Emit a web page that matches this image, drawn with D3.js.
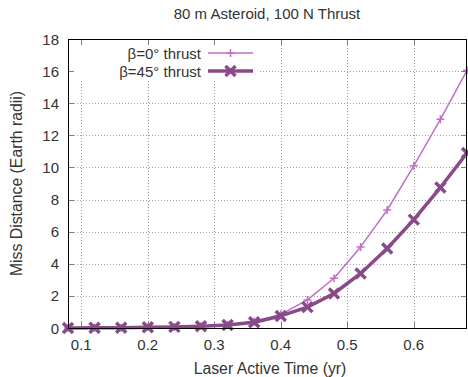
<!DOCTYPE html>
<html>
<head>
<meta charset="utf-8">
<script src="https://cdn.jsdelivr.net/npm/d3@7"></script>
<style>
  html, body { margin: 0; padding: 0; background: #fff; }
  svg { display: block; font-family: 'Liberation Sans', Arial, sans-serif; }
</style>
</head>
<body>
<svg id="chart" width="468" height="377"></svg>
<script>
// laser active time (yr)
const times = [0.08, 0.12, 0.16, 0.20, 0.24, 0.28, 0.32, 0.36, 0.40, 0.44, 0.48, 0.52, 0.56, 0.60, 0.64, 0.68];
const beta0 = [0.0, 0.01, 0.02, 0.04, 0.07, 0.12, 0.2, 0.4, 0.85, 1.75, 3.1, 5.05, 7.35, 10.1, 13.0, 16.05];
const beta45 = [0.0, 0.01, 0.02, 0.04, 0.07, 0.11, 0.18, 0.36, 0.75, 1.3, 2.15, 3.4, 4.95, 6.75, 8.75, 10.9];
const xTicks = [0.1, 0.2, 0.3, 0.4, 0.5, 0.6];
const yTicks = [0, 2, 4, 6, 8, 10, 12, 14, 16, 18];

const series = [
  { label: 'β=0° thrust', values: beta0, color: '#c070c4', width: 1.5, marker: 'plus' },
  { label: 'β=45° thrust', values: beta45, color: '#8a4a8a', width: 3.5, marker: 'cross' }
];

const width = 468;
const height = 377;
const margin = { left: 68, right: 1, top: 39, bottom: 49 };
const fs = 15;
const svg = d3.select('#chart');

const x = d3.scaleLinear().domain([0.08, 0.68]).range([margin.left, width - margin.right]);
const y = d3.scaleLinear().domain([0, 18]).range([height - margin.bottom, margin.top]);

// grid
const grid = svg.append('g').attr('stroke', '#a0a0a0').attr('stroke-width', 1).attr('stroke-dasharray', '1,2');
grid.selectAll('line.gx').data(xTicks).join('line')
  .attr('x1', (d) => Math.round(x(d)) + 0.5).attr('x2', (d) => Math.round(x(d)) + 0.5)
  .attr('y1', y(0)).attr('y2', y(18));
grid.selectAll('line.gy').data(yTicks.slice(1, -1)).join('line')
  .attr('x1', x(0.08)).attr('x2', x(0.68))
  .attr('y1', (d) => Math.round(y(d)) + 0.5).attr('y2', (d) => Math.round(y(d)) + 0.5);

// opaque legend box
svg.append('rect').attr('x', margin.left + 1).attr('y', margin.top + 1).attr('width', 190).attr('height', 41).attr('fill', '#fff');

// ticks (mirrored, inward)
const ticks = svg.append('g').attr('stroke', '#808080').attr('stroke-width', 1);
xTicks.forEach((d) => {
  const px = Math.round(x(d)) + 0.5;
  ticks.append('line').attr('x1', px).attr('x2', px).attr('y1', y(0)).attr('y2', y(0) - 6);
  ticks.append('line').attr('x1', px).attr('x2', px).attr('y1', y(18)).attr('y2', y(18) + 6);
});
yTicks.forEach((d) => {
  const py = Math.round(y(d)) + 0.5;
  ticks.append('line').attr('x1', x(0.08)).attr('x2', x(0.08) + 6).attr('y1', py).attr('y2', py);
  ticks.append('line').attr('x1', x(0.68)).attr('x2', x(0.68) - 6).attr('y1', py).attr('y2', py);
});

// tick labels
svg.append('g').selectAll('text').data(xTicks).join('text')
  .attr('x', (d) => x(d)).attr('y', y(0) + 22).attr('text-anchor', 'middle')
  .attr('font-size', fs).attr('fill', '#333').text((d) => d.toFixed(1));
svg.append('g').selectAll('text').data(yTicks).join('text')
  .attr('x', x(0.08) - 9).attr('y', (d) => y(d) + 5.5).attr('text-anchor', 'end')
  .attr('font-size', fs).attr('fill', '#333').text((d) => d);

// axis titles
svg.append('text').attr('x', 267).attr('y', 18.5).attr('text-anchor', 'middle')
  .attr('font-size', fs).attr('fill', '#333').text('80 m Asteroid, 100 N Thrust');
svg.append('text').attr('x', 270).attr('y', 374).attr('text-anchor', 'middle')
  .attr('font-size', 15.8).attr('fill', '#333').text('Laser Active Time (yr)');
svg.append('text').attr('transform', `translate(22, ${y(9)}) rotate(-90)`).attr('text-anchor', 'middle')
  .attr('font-size', 15.8).attr('fill', '#333').text('Miss Distance (Earth radii)');

function drawMarker(g, kind, cx, cy, color) {
  if (kind === 'plus') {
    g.append('path').attr('d', `M${cx - 4},${cy}H${cx + 4}M${cx},${cy - 4}V${cy + 4}`)
      .attr('stroke', color).attr('stroke-width', 1.5).attr('fill', 'none');
  } else {
    g.append('path').attr('d', `M${cx - 5},${cy - 5}L${cx + 5},${cy + 5}M${cx - 5},${cy + 5}L${cx + 5},${cy - 5}`)
      .attr('stroke', color).attr('stroke-width', 3.5).attr('fill', 'none');
  }
}

// lines, clipped to plot area
svg.append('clipPath').attr('id', 'clip').append('rect')
  .attr('x', x(0.08) - 6).attr('y', margin.top).attr('width', x(0.68) - x(0.08) + 12).attr('height', y(0) - margin.top + 6);
const plot = svg.append('g').attr('clip-path', 'url(#clip)');
const line = d3.line().x((d, i) => x(times[i])).y((d) => y(d));
series.forEach((s) => {
  plot.append('path').attr('d', line(s.values)).attr('fill', 'none')
    .attr('stroke', s.color).attr('stroke-width', s.width).attr('stroke-linejoin', 'round');
  s.values.forEach((v, i) => drawMarker(plot, s.marker, x(times[i]), y(v), s.color));
});

// legend
series.forEach((s, i) => {
  const ly = 53 + i * 18;
  svg.append('text').attr('x', 201).attr('y', ly + 5.5).attr('text-anchor', 'end')
    .attr('font-size', fs).attr('fill', '#333').text(s.label);
  svg.append('line').attr('x1', 208).attr('x2', 253).attr('y1', ly).attr('y2', ly)
    .attr('stroke', s.color).attr('stroke-width', s.width);
  drawMarker(svg, s.marker, 230.5, ly, s.color);
});

// border
svg.append('rect').attr('x', x(0.08) + 0.5).attr('y', margin.top + 0.5)
  .attr('width', x(0.68) - x(0.08) - 1).attr('height', y(0) - margin.top)
  .attr('fill', 'none').attr('stroke', '#000').attr('stroke-width', 1);
</script>
</body>
</html>
